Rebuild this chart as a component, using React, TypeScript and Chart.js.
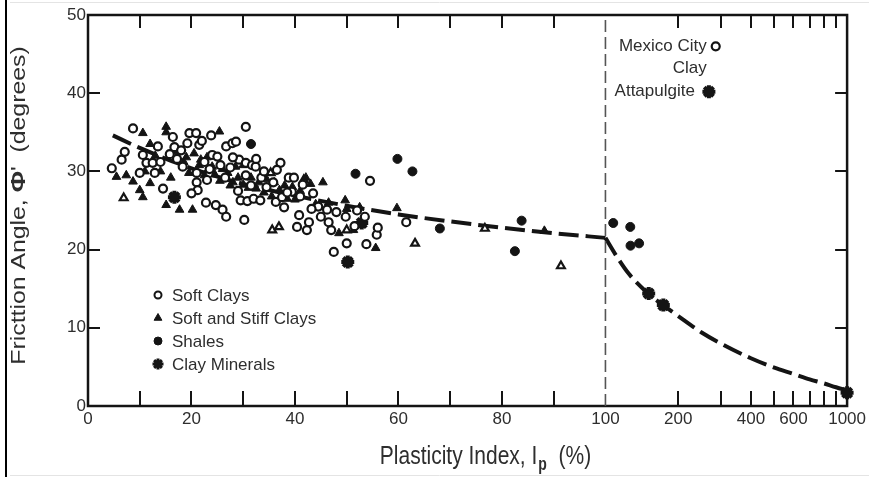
import React, { useEffect, useRef } from 'react';
import { Chart, registerables } from 'chart.js';
import { drawPoint } from 'chart.js/helpers';

Chart.register(...registerables);

const FONT = "'Liberation Sans', Arial, Helvetica, sans-serif";

// ---- axis mapping: linear 0..100, then log 100..1000 ----
const LOG_DECADE_WIDTH = 46.7; // width of the 100→1000 decade, in linear-axis units
const toAxis = (v: number) => (v <= 100 ? v : 100 + Math.log10(v / 100) * LOG_DECADE_WIDTH);
const X_MAX = toAxis(1000);

const xTickValues = [0, 10, 20, 30, 40, 50, 60, 70, 80, 90, 100, 200, 300, 400, 500, 600, 700, 800, 900, 1000];
const xTickLabels = ['0', '', '20', '', '40', '', '60', '', '80', '', '100', '200', '', '400', '', '600', '', '', '', '1000'];

const seriesLabels = ['Soft Clays', 'Soft and Stiff Clays', 'Shales', 'Clay Minerals'];
const annotationLabels = ['Mexico City', 'Clay', 'Attapulgite'];
const xTitleParts = ['Plasticity Index, I', 'p', '  (%)'];
const yTitleParts = ['Fricttion Angle, ', 'Φ', "'  (degrees)"];

// ---- data: [plasticity index %, friction angle deg] ----
const softClays: [number, number][] = [
  [4.6, 30.4], [6.5, 31.5], [7.1, 32.5], [8.7, 35.5], [10, 29.8], [10.6, 32.1], [11.3, 31.1], [12.5, 31.1],
  [12.9, 29.8], [13.5, 33.2], [14.5, 27.8], [16.4, 34.4], [16.7, 33.1], [17.2, 31.6], [18, 32.7], [18.3, 30.6],
  [19.6, 34.9], [20.9, 34.9], [21.5, 33.4], [21, 29.8], [21, 28.6], [21.2, 27.6], [20, 27.2], [22.5, 31.2],
  [23, 28.9], [23.5, 30.3], [22.8, 26], [24.7, 25.7], [26, 25.1], [26.7, 24.2], [24, 32.1], [25, 31.9],
  [26.7, 33.2], [27.9, 33.6], [28.6, 33.8], [26.5, 29.2], [27.5, 30.5], [29.2, 31.5], [30.5, 31.1], [31.7, 30.8],
  [32.4, 30.6], [30.5, 35.7], [30.2, 23.8], [29, 27.5], [29.5, 26.3], [30.8, 26.2], [32, 26.5], [33.3, 26.3],
  [31.5, 28.2], [33.5, 29.2], [34.5, 28], [36.3, 26.1], [37.5, 26.7], [37.2, 31.1], [38.8, 29.2], [39.8, 29.2],
  [39.4, 27.4], [37.9, 25.4], [40.8, 24.4], [42.7, 23.5], [40.4, 22.9], [42.3, 22.5], [41, 26.8], [43.5, 27.2],
  [44.5, 25.5], [46.2, 25.1], [46.5, 23.5], [48, 24.8], [49.8, 24.2], [47.5, 19.7], [50, 20.8], [51.5, 23],
  [53.8, 20.7], [55.8, 21.9], [54.5, 28.8], [61.5, 23.5],
  [14, 31.2], [15.8, 32.2], [19.2, 33.6], [22, 33.9], [23.8, 34.6], [25.6, 30.8], [28, 31.8], [30.5, 29.5],
  [32.5, 31.6], [34, 30], [35.8, 28.6], [36.5, 30.2], [38.5, 27.3], [41.5, 28.3], [43.2, 25.2], [45, 24.2],
  [47, 22.5], [52, 25], [53.5, 24.2], [56, 22.8],
];
const mexicoCityClay: [number, number][] = [[286, 46]];

const stiffClaysFilled: [number, number][] = [
  [5.5, 29.3], [7.4, 29.5], [8.7, 28.7], [10.6, 34.9], [10, 27.6], [10.6, 26.7], [12, 28.5], [14, 30],
  [15.1, 35.7], [15.1, 35], [15.1, 25.7], [16, 29.2], [17.7, 25.1], [18.5, 31.2], [19.5, 29.8], [20.2, 25.1],
  [21.5, 30.8], [22.5, 29.5], [24, 30.6], [25.4, 35.1], [25.5, 28.8], [27, 29.8], [28, 28.6], [29, 29.2],
  [30, 28.3], [31, 27.9], [32.5, 27.8], [34, 27.3], [35.5, 26.8], [37, 27.6], [38.5, 26.5], [40, 26.4],
  [42.1, 29.2], [43, 28.4], [45.4, 28.6], [44, 25.8], [46.5, 26], [48.5, 22.1], [49.7, 26.3], [50, 25.2],
  [51.3, 22.5], [52.5, 25.4], [55.6, 20.2], [59.7, 25.3], [88.2, 22.4],
  [19, 31.8], [20.5, 32.3], [21.8, 31.5], [23, 31.8], [24.5, 29.6], [26, 30.3], [27.5, 28.2], [28.5, 30.6],
  [30, 30.8], [31.5, 29.2], [33, 28.6], [34.5, 29], [36, 28.6], [38, 28.2], [39.5, 28], [41, 27.5],
  [13, 32], [12, 33.5], [11, 30], [17, 32.6],
];
const stiffClaysOpen: [number, number][] = [
  [6.9, 26.6], [35.3, 29.8], [35.6, 22.5], [36.9, 22.9], [41.7, 28.9], [50, 22.5], [63.2, 20.8], [76.7, 22.7],
  [91.4, 17.9],
];
const shales: [number, number][] = [
  [31.5, 33.5], [51.7, 29.7], [59.8, 31.6], [62.7, 30.0], [68, 22.7], [83.8, 23.7], [82.5, 19.8],
  [107.7, 23.4], [126.7, 22.9], [127, 20.5], [137.8, 20.8],
];
const clayMinerals: [number, number][] = [
  [16.7, 26.7], [50.2, 18.4], [52.9, 23.4], [151, 14.4], [173.6, 12.9], [1000, 1.7],
];
const attapulgite: [number, number][] = [[268, 40.2]];

const trendLow: [number, number][] = [
  [4.8, 34.6], [10, 33.0], [20, 30.4], [30, 28.4], [40, 26.9], [50, 25.6], [60, 24.5], [70, 23.6],
  [80, 22.8], [90, 22.1], [100, 21.5],
];
const trendHigh: [number, number][] = [
  [100, 21.5], [112, 19.0], [125, 16.9], [150, 14.4], [175, 12.8], [200, 11.5], [250, 9.4], [300, 8.0],
  [400, 6.1], [500, 4.9], [600, 4.1], [700, 3.4], [800, 2.9], [900, 2.4], [1000, 2.0],
];
const boundary: [number, number][] = [[100, 0], [100, 50]];

const pts = (arr: [number, number][]) => arr.map(([x, y]) => ({ x: toAxis(x), y }));

const INK = '#141414';
const TEXT = '#2e2e2e';

const legendStyles = [
  { pointStyle: 'circle', radius: 3.5, fill: '#fff', bw: 2 },
  { pointStyle: 'triangle', radius: 4.5, fill: INK, bw: 1 },
  { pointStyle: 'circle', radius: 4, fill: INK, bw: 1 },
  { pointStyle: 'star', radius: 5.5, fill: INK, bw: 3 },
];

const framePlugin = {
  id: 'framePlugin',
  beforeDatasetsDraw(chart: any) {
    const { ctx, chartArea: a } = chart;
    const xs = chart.scales.x;
    const ys = chart.scales.y;
    const seg = (x1: number, y1: number, x2: number, y2: number) => {
      ctx.beginPath();
      ctx.moveTo(x1, y1);
      ctx.lineTo(x2, y2);
      ctx.stroke();
    };
    ctx.save();
    ctx.strokeStyle = INK;
    ctx.lineWidth = 2;
    xs.ticks.forEach((t: any) => {
      if (t.value <= 0.001 || t.value >= X_MAX - 0.001 || Math.abs(t.value - 100) < 0.001) return;
      const px = Math.round(xs.getPixelForValue(t.value));
      seg(px, a.bottom, px, a.bottom - 15);
      seg(px, a.top, px, a.top + 13);
    });
    ys.ticks.forEach((t: any) => {
      if (t.value <= 0 || t.value >= 50) return;
      const py = Math.round(ys.getPixelForValue(t.value));
      seg(a.left, py, a.left + 12, py);
      seg(a.right, py, a.right - 12, py);
    });
    ctx.lineWidth = 2.5;
    ctx.strokeRect(a.left, a.top, a.right - a.left, a.bottom - a.top);
    ctx.strokeStyle = '#000';
    ctx.lineWidth = 2;
    seg(6, 0, 6, chart.height);
    ctx.strokeStyle = '#e4e4e4';
    ctx.lineWidth = 1;
    seg(10, 2.5, chart.width, 2.5);
    seg(10, chart.height - 1.5, chart.width, chart.height - 1.5);
    ctx.restore();
  },
  afterDraw(chart: any) {
    const { ctx, chartArea: a } = chart;
    const xs = chart.scales.x;
    const ys = chart.scales.y;
    ctx.save();

    // legend
    legendStyles.forEach((st, i) => {
      const cx = a.left + 70;
      const cy = a.top + 280 + i * 23;
      ctx.fillStyle = st.fill;
      ctx.strokeStyle = INK;
      ctx.lineWidth = st.bw;
      drawPoint(ctx, { pointStyle: st.pointStyle as any, radius: st.radius, rotation: 0, borderWidth: st.bw }, cx, cy);
      ctx.fillStyle = TEXT;
      ctx.font = `17px ${FONT}`;
      ctx.textAlign = 'left';
      ctx.textBaseline = 'middle';
      ctx.fillText(seriesLabels[i], cx + 14, cy + 1);
    });

    // annotations
    ctx.font = `17px ${FONT}`;
    ctx.fillStyle = TEXT;
    ctx.textAlign = 'right';
    ctx.textBaseline = 'middle';
    const mx = xs.getPixelForValue(toAxis(mexicoCityClay[0][0]));
    const my = ys.getPixelForValue(mexicoCityClay[0][1]);
    ctx.fillText(annotationLabels[0], mx - 9, my);
    ctx.fillText(annotationLabels[1], mx - 9, my + 22);
    const ax = xs.getPixelForValue(toAxis(attapulgite[0][0]));
    const ay = ys.getPixelForValue(attapulgite[0][1]);
    ctx.fillText(annotationLabels[2], ax - 14, ay);

    // x title with subscript
    ctx.textAlign = 'left';
    ctx.textBaseline = 'alphabetic';
    const mainFont = `21px ${FONT}`;
    const subFont = `bold 14px ${FONT}`;
    ctx.font = mainFont;
    const w1 = ctx.measureText(xTitleParts[0]).width;
    const w3 = ctx.measureText(xTitleParts[2]).width;
    ctx.font = subFont;
    const w2 = ctx.measureText(xTitleParts[1]).width;
    const total = w1 + w2 + w3;
    const cxT = a.left + (a.right - a.left) * 0.523;
    const baseY = a.bottom + 58;
    ctx.save();
    ctx.translate(cxT - total / 2, baseY);
    ctx.scale(1, 1.25);
    ctx.font = mainFont;
    ctx.fillText(xTitleParts[0], 0, 0);
    ctx.font = subFont;
    ctx.fillText(xTitleParts[1], w1 + 1, 5);
    ctx.font = mainFont;
    ctx.fillText(xTitleParts[2], w1 + w2 + 1, 0);
    ctx.restore();

    // y title (rotated) with bold phi
    const yFont = `20px ${FONT}`;
    const yBold = `bold 21px ${FONT}`;
    ctx.font = yFont;
    const v1 = ctx.measureText(yTitleParts[0]).width;
    const v3 = ctx.measureText(yTitleParts[2]).width;
    ctx.font = yBold;
    const v2 = ctx.measureText(yTitleParts[1]).width;
    const vt = v1 + v2 + v3;
    ctx.save();
    ctx.translate(19, (a.top + a.bottom) / 2 - 5);
    ctx.rotate(-Math.PI / 2);
    ctx.scale(1.24, 1);
    ctx.textBaseline = 'middle';
    ctx.font = yFont;
    ctx.fillText(yTitleParts[0], -vt / 2, 0);
    ctx.font = yBold;
    ctx.fillText(yTitleParts[1], -vt / 2 + v1, 0);
    ctx.font = yFont;
    ctx.fillText(yTitleParts[2], -vt / 2 + v1 + v2, 0);
    ctx.restore();

    ctx.restore();
  },
};

export default function App() {
  const canvasRef = useRef<HTMLCanvasElement | null>(null);

  useEffect(() => {
    document.body.style.margin = '0';
    const canvas = canvasRef.current;
    if (!canvas) return;
    const chart = new Chart(canvas, {
      type: 'scatter',
      data: {
        datasets: [
          {
            label: seriesLabels[0],
            data: pts([...softClays, ...mexicoCityClay]),
            pointStyle: 'circle',
            pointRadius: 4,
            pointBackgroundColor: '#fff',
            pointBorderColor: INK,
            pointBorderWidth: 2.2,
          },
          {
            label: seriesLabels[1],
            data: pts(stiffClaysFilled),
            pointStyle: 'triangle',
            pointRadius: 5,
            pointBackgroundColor: INK,
            pointBorderColor: INK,
            pointBorderWidth: 1,
          },
          {
            label: seriesLabels[1] + ' (open)',
            data: pts(stiffClaysOpen),
            pointStyle: 'triangle',
            pointRadius: 4.5,
            pointBackgroundColor: '#fff',
            pointBorderColor: INK,
            pointBorderWidth: 2.2,
          },
          {
            label: seriesLabels[2],
            data: pts(shales),
            pointStyle: 'circle',
            pointRadius: 4.5,
            pointBackgroundColor: INK,
            pointBorderColor: INK,
            pointBorderWidth: 1,
          },
          {
            label: seriesLabels[3],
            data: pts([...clayMinerals, ...attapulgite]),
            pointStyle: 'star',
            pointRadius: 6.5,
            pointBackgroundColor: INK,
            pointBorderColor: INK,
            pointBorderWidth: 4,
            clip: false as any,
          },
          {
            type: 'line',
            label: 'Boundary',
            data: pts(boundary),
            showLine: true,
            borderColor: '#555',
            borderWidth: 1.6,
            borderDash: [12, 5],
            pointRadius: 0,
          } as any,
          {
            type: 'line',
            label: 'Trend (Ip ≤ 100)',
            data: pts(trendLow),
            showLine: true,
            borderColor: INK,
            borderWidth: 4,
            borderDash: [20, 7],
            pointRadius: 0,
            cubicInterpolationMode: 'monotone',
          } as any,
          {
            type: 'line',
            label: 'Trend (Ip > 100)',
            data: pts(trendHigh),
            showLine: true,
            borderColor: INK,
            borderWidth: 4,
            borderDash: [20, 7],
            pointRadius: 0,
            cubicInterpolationMode: 'monotone',
          } as any,
        ],
      },
      options: {
        responsive: false,
        animation: false,
        events: [],
        layout: { padding: { top: 15, right: 18, left: 0, bottom: 0 } },
        plugins: { legend: { display: false }, tooltip: { enabled: false }, title: { display: false } },
        scales: {
          x: {
            type: 'linear',
            min: 0,
            max: X_MAX,
            afterBuildTicks: (s: any) => {
              s.ticks = xTickValues.map((v) => ({ value: toAxis(v) }));
            },
            afterFit: (s: any) => {
              s.height = 71;
            },
            grid: { display: false, drawTicks: false, tickLength: 0 },
            border: { display: false },
            ticks: {
              autoSkip: false,
              maxRotation: 0,
              minRotation: 0,
              padding: 3,
              color: TEXT,
              font: { family: FONT, size: 17 },
              callback: (_v: any, i: number) => xTickLabels[i] ?? '',
            },
          },
          y: {
            type: 'linear',
            min: 0,
            max: 50,
            afterFit: (s: any) => {
              s.width = 88;
            },
            grid: { display: false, drawTicks: false, tickLength: 0 },
            border: { display: false },
            ticks: {
              stepSize: 10,
              padding: 2,
              color: TEXT,
              font: { family: FONT, size: 17 },
            },
          },
        },
      },
      plugins: [framePlugin],
    });
    return () => chart.destroy();
  }, []);

  return (
    <div style={{ width: 869, height: 477, background: '#fff' }}>
      <canvas ref={canvasRef} width={869} height={477} style={{ display: 'block' }} />
    </div>
  );
}
